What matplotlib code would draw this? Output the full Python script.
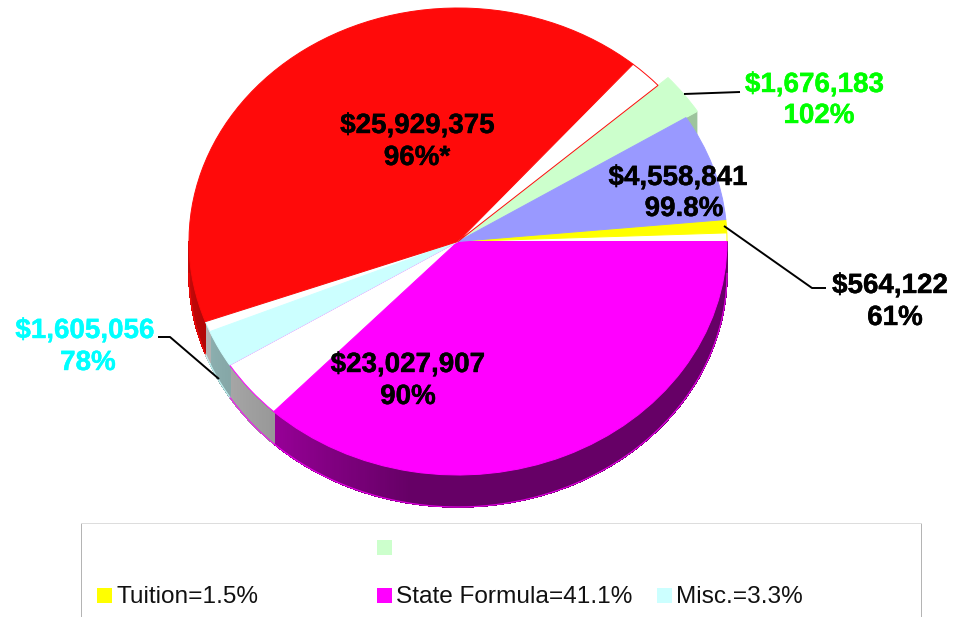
import numpy as np
import matplotlib
matplotlib.use("Agg")
import matplotlib.pyplot as plt
import matplotlib.patheffects as pe
from matplotlib.collections import PolyCollection
from matplotlib.patches import Rectangle

# ---- data
categories = ["Tuition", "State Formula", "Misc.", "Local", "Other", "Federal"]
shares = [1.5, 41.1, 3.3, 43.9, 2.75, 7.4]          # percent of the whole pie
filled = [0.61, 0.90, 0.78, 0.953, 1.00, 1.00]      # fraction drawn solid
colors = ["#FFFF00", "#FF00FF", "#CCFFFF", "#FF0A0A", "#CCFFCC", "#9999FF"]
amounts = ["$564,122", "$23,027,907", "$1,605,056", "$25,929,375", "$1,676,183", "$4,558,841"]
percents = ["61%", "90%", "78%", "96%*", "102%", "99.8%"]
label_colors = ["black", "black", "#00FFFF", "black", "#00FF00", "black"]
legend_labels = ["Tuition=1.5%", "State Formula=41.1%", "Misc.=3.3%", ""]
legend_colors = ["#FFFF00", "#FF00FF", "#CCFFFF", "#CCFFCC"]

plt.rcParams["font.family"] = ["Liberation Sans", "DejaVu Sans"]
W, H = 954, 617
CX, CY, RX, RY, DEPTH = 458, 241.5, 269, 233.5, 32

fig = plt.figure(figsize=(W / 100, H / 100), dpi=100)
ax = fig.add_axes([0, 0, 1, 1])

# flat list of wedges, clockwise: solid part then empty part of each category
values, face, edge, owner = [], [], [], []
for s, f, c in zip(shares, filled, colors):
    values.append(s * f); face.append(c); edge.append(c); owner.append(c)
    if f < 1:
        values.append(s * (1 - f)); face.append("white"); edge.append(c); owner.append(c)

start = 360 * shares[0] / sum(shares)
wedges, _ = ax.pie(values, colors=face, startangle=start, counterclock=False,
                   normalize=True, wedgeprops=dict(linewidth=0.7, zorder=3))
for w, e, fc, own in zip(wedges, edge, face, owner):
    w.set_edgecolor(e)
    if own == colors[4]:
        w.set_radius(1.05)
    if fc == "white" and own == colors[3]:
        w.set_zorder(4)
ax.set_aspect("auto")
ax.set_xlim(-CX / RX, (W - CX) / RX)
ax.set_ylim((CY - H) / RY, CY / RY)
ax.axis("off")
d = DEPTH / RY


def shade(t):
    cw = (-t) % 360
    return np.interp(cw, [0, 100, 134, 160, 182], [0.40, 0.40, 0.60, 0.70, 0.82])


# side wall of the pie, front half only
for w, fc, own in zip(wedges, face, owner):
    t1, t2 = w.theta1 % 360, w.theta2 % 360
    if t2 <= t1:
        t2 += 360
    lo, hi = max(t1, 180), min(t2, 360)
    if hi <= lo:
        continue
    ts = np.linspace(lo, hi, max(int((hi - lo) * 2), 2))
    polys, cols = [], []
    base = np.array(matplotlib.colors.to_rgb(fc))
    for a, b in zip(ts[:-1], ts[1:]):
        ra, rb = np.radians(a), np.radians(b)
        polys.append([(np.cos(ra), np.sin(ra)), (np.cos(rb), np.sin(rb)),
                      (np.cos(rb), np.sin(rb) - d), (np.cos(ra), np.sin(ra) - d)])
        cols.append(base * shade((a + b) / 2))
    ax.add_collection(PolyCollection(polys, facecolors=cols, edgecolors=cols,
                                     linewidths=0.6, antialiaseds=False, zorder=1))
    rad = np.radians(ts)
    ax.plot(np.cos(rad), np.sin(rad) - d, color=own, lw=0.9, zorder=2, alpha=0.8)

# cut face of the raised green slice
green = [w for w, o in zip(wedges, owner) if o == colors[4]][0]
ra = np.radians(green.theta1)
r0, r1 = 0.97, 1.05
ax.add_patch(plt.Polygon([(r0 * np.cos(ra), r0 * np.sin(ra)), (r1 * np.cos(ra), r1 * np.sin(ra)),
                          (r1 * np.cos(ra), r1 * np.sin(ra) - d * 0.85), (r0 * np.cos(ra), r0 * np.sin(ra) - d * 0.85)],
                         fc="#9DC49D", ec="none", zorder=1))

# overlay in pixel coordinates for labels, leaders, legend
ov = fig.add_axes([0, 0, 1, 1], facecolor="none")
ov.set_xlim(0, W); ov.set_ylim(H, 0); ov.axis("off")

label_pos = [((890, 286), (895, 318)), ((408, 365), (408, 397)), ((85, 331), (88, 363)),
             ((417.5, 126), (417, 158)), ((814.5, 85), (819, 116)), ((678, 178), (684, 209))]
for a, p, c, (pa, pp) in zip(amounts, percents, label_colors, label_pos):
    for s, pos in ((a, pa), (p, pp)):
        t = ov.text(*pos, s, color=c, fontsize=20, fontweight="bold", ha="center", va="center", zorder=6)
        t.set_path_effects([pe.withStroke(linewidth=0.3, foreground=c)])

leaders = [([724, 812, 826], [226, 288, 288]), ([684, 740], [94, 92]), ([158, 170, 219], [337, 337, 379])]
for xs, ys in leaders:
    ov.plot(xs, ys, color="black", lw=1.4, zorder=5, solid_capstyle="butt")

ov.plot([81.5, 81.5], [617, 522.5], color="#B4B4B4", lw=0.72)
ov.plot([921.5, 921.5], [617, 522.5], color="#B4B4B4", lw=0.72)
ov.plot([81.5, 921.5], [522.5, 522.5], color="#DDDDDD", lw=0.72)

legend_xy = [(97.5, 588), (377, 588), (657, 588), (377, 540)]
for (x, y), lab, c in zip(legend_xy, legend_labels, legend_colors):
    ov.add_patch(Rectangle((x, y), 15, 15, fc=c, ec="none"))
    if lab:
        ov.text(x + 19.5, 603, lab, fontsize=17.6, color="#111111", ha="left", va="baseline")

fig.savefig("out.png", dpi=100)
